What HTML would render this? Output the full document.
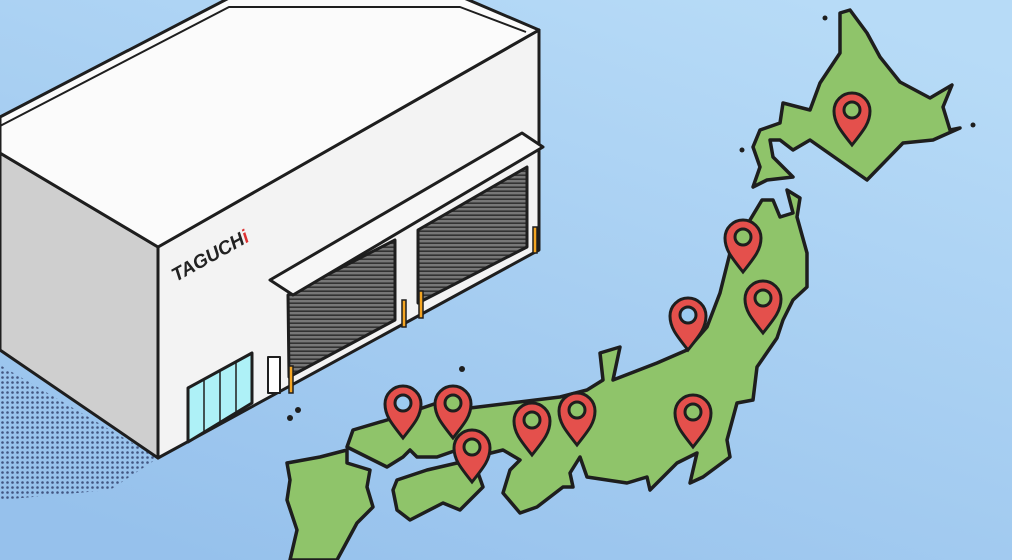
<!DOCTYPE html>
<html><head><meta charset="utf-8"><style>
html,body{margin:0;padding:0;width:1012px;height:560px;overflow:hidden}
</style></head><body>
<svg width="1012" height="560" viewBox="0 0 1012 560" xmlns="http://www.w3.org/2000/svg">
<defs>
<linearGradient id="bg" x1="0.8" y1="0" x2="0.2" y2="1">
<stop offset="0" stop-color="#b7dbf7"/><stop offset="1" stop-color="#96c1ec"/>
</linearGradient>
<pattern id="dots" width="5" height="5" patternUnits="userSpaceOnUse">
<circle cx="2.5" cy="2.5" r="1.3" fill="#33426e"/>
</pattern>
<pattern id="sh" width="6" height="4" patternUnits="userSpaceOnUse">
<rect width="6" height="4" fill="#777"/><rect y="2.4" width="6" height="1.6" fill="#333"/>
</pattern>
<g id="pinR"><path d="M0,0 C-11,-14 -18,-22 -18,-34 A18,18 0 1 1 18,-34 C18,-22 11,-14 0,0Z" fill="#e4504c" stroke="#1e1e1e" stroke-width="3"/><circle cx="0" cy="-35" r="8" fill="#8fc46a" stroke="#1e1e1e" stroke-width="3"/></g>
<g id="pinB"><path d="M0,0 C-11,-14 -18,-22 -18,-34 A18,18 0 1 1 18,-34 C18,-22 11,-14 0,0Z" fill="#e4504c" stroke="#1e1e1e" stroke-width="3"/><circle cx="0" cy="-35" r="8" fill="#9ccbf0" stroke="#1e1e1e" stroke-width="3"/></g>
</defs>
<rect width="1012" height="560" fill="url(#bg)"/>
<polygon points="0,365 158,458 110,490 0,500" fill="url(#dots)" opacity="0.85"/>
<!-- map -->
<g fill="#8fc46a" stroke="#1e1e1e" stroke-width="3.5" stroke-linejoin="round">
<polygon points="840,13 850,10 867,33 880,57 900,82 930,98 952,85 943,107 950,130 960,128 933,140 903,143 867,180 810,140 793,150 780,140 770,140 773,157 793,177 767,180 753,187 760,167 753,147 760,130 780,123 783,103 810,110 820,83 840,53"/>
<polygon points="762,200 773,200 780,217 793,213 787,190 800,198 797,217 807,253 807,287 793,300 783,320 777,338 757,367 753,400 737,403 727,440 730,457 703,477 690,483 697,453 677,463 650,490 647,477 627,483 587,477 580,457 570,473 573,487 563,487 537,507 520,513 503,493 510,470 520,460 503,450 483,455 457,450 437,457 417,457 410,450 403,457 387,467 367,457 347,447 353,430 387,420 440,402 470,408 560,397 587,390 603,380 600,353 620,347 613,380 657,363 687,350 707,327 720,293 730,253 750,220"/>
<polygon points="397,480 427,470 457,463 477,470 483,487 460,510 443,503 410,520 397,510 393,490"/>
<polygon points="287,463 320,457 347,450 347,463 370,470 367,487 373,507 357,523 337,560 290,560 297,530 287,500 290,480"/>
</g>
<g fill="#1e1e1e"><circle cx="825" cy="18" r="2.5"/><circle cx="742" cy="150" r="2.5"/><circle cx="462" cy="369" r="3"/><circle cx="298" cy="410" r="3"/><circle cx="290" cy="418" r="3"/><circle cx="973" cy="125" r="2.5"/></g>
<!-- warehouse -->
<g stroke="#1e1e1e" stroke-width="3" stroke-linejoin="round">
<polygon points="0,153 158,247 158,458 0,350" fill="#cfcfcf"/>
<polygon points="158,247 539,30 539,250 158,458" fill="#f3f3f3"/>
<polygon points="0,117 229,-2 464,-2 539,30 158,247 0,153" fill="#fbfbfb"/>
<polyline points="0,126 229,7 460,7 526,32" fill="none" stroke-width="2"/>
<polygon points="288,295 395,240 395,320 289,377" fill="url(#sh)"/>
<polygon points="418,230 527,167 527,247 418,303" fill="url(#sh)"/>
<polygon points="270,280 522,133 543,147 293,295" fill="#f7f7f7"/>
<polygon points="188,388 252,353 252,403 188,442" fill="#aef1f7"/>
<rect x="268" y="357" width="12" height="36" fill="#fff" stroke-width="2"/>
</g>
<g stroke="#1e1e1e" stroke-width="1.5"><line x1="204" y1="379" x2="204" y2="433"/><line x1="220" y1="371" x2="220" y2="424"/><line x1="236" y1="362" x2="236" y2="415"/></g>
<text x="176" y="282" font-family="Liberation Sans,sans-serif" font-weight="bold" font-style="italic" font-size="19" fill="#222" transform="rotate(-29 176 282)">TAGUCH<tspan fill="#d33">i</tspan></text>
<g stroke="#1e1e1e" stroke-width="1.5" fill="#f5a623">
<rect x="289" y="366" width="4" height="27"/><rect x="402" y="300" width="4" height="27"/><rect x="419" y="291" width="4" height="27"/><rect x="533" y="227" width="4" height="26"/>
</g>
<!-- pins -->
<use href="#pinR" x="852" y="145"/>
<use href="#pinR" x="743" y="272"/>
<use href="#pinR" x="763" y="333"/>
<use href="#pinB" x="688" y="350"/>
<use href="#pinR" x="693" y="447"/>
<use href="#pinR" x="577" y="445"/>
<use href="#pinR" x="532" y="455"/>
<use href="#pinR" x="453" y="438"/>
<use href="#pinB" x="403" y="438"/>
<use href="#pinR" x="472" y="482"/>
</svg>
</body></html>
